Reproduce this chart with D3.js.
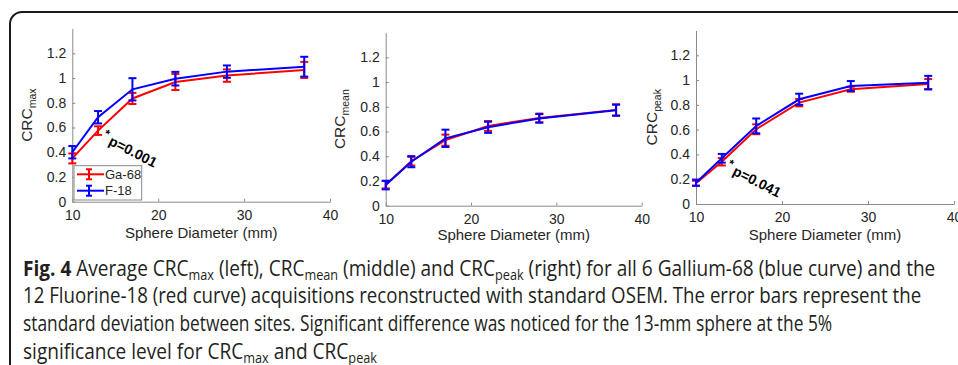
<!DOCTYPE html>
<html>
<head>
<meta charset="utf-8">
<script src="https://cdn.jsdelivr.net/npm/d3@7"></script>
<style>
  body { margin: 0; background: #fff; }
  svg { display: block; }
</style>
</head>
<body>
<div id="app"></div>
<script>
// sphere diameters (mm)
const diameters = [10, 13, 17, 22, 28, 37];

// CRCmax
const maxGa = [0.35, 0.575, 0.835, 0.968, 1.02, 1.066];
const maxGaSd = [0.04, 0.035, 0.045, 0.065, 0.05, 0.065];
const maxF = [0.40, 0.683, 0.909, 0.995, 1.052, 1.092];
const maxFSd = [0.05, 0.05, 0.09, 0.055, 0.05, 0.08];

// CRCmean
const meanGa = [0.17, 0.36, 0.53, 0.645, 0.71, 0.775];
const meanGaSd = [0.03, 0.035, 0.045, 0.04, 0.035, 0.045];
const meanF = [0.167, 0.356, 0.545, 0.634, 0.706, 0.772];
const meanFSd = [0.035, 0.045, 0.07, 0.045, 0.035, 0.045];

// CRCpeak
const peakGa = [0.168, 0.341, 0.603, 0.818, 0.926, 0.968];
const peakGaSd = [0.02, 0.03, 0.04, 0.03, 0.02, 0.04];
const peakF = [0.172, 0.369, 0.63, 0.845, 0.952, 0.979];
const peakFSd = [0.025, 0.035, 0.06, 0.045, 0.04, 0.055];

const xTicks = [10, 20, 30, 40];
const yTicks = [0, 0.2, 0.4, 0.6, 0.8, 1, 1.2];
const yTickLabels = ["0", "0.2", "0.4", "0.6", "0.8", "1", "1.2"];
const seriesNames = ["Ga-68", "F-18"];
const seriesColors = ["#ff0000", "#0000ff"];

const W = 958, H = 365;
const axisColor = "#262626";
const chartFont = "'Liberation Sans', Arial, sans-serif";

const svg = d3.select("#app").append("svg").attr("width", W).attr("height", H);

// rounded frame
svg.append("rect")
  .attr("x", 10).attr("y", 12)
  .attr("width", 1000).attr("height", 400)
  .attr("rx", 12)
  .attr("fill", "none")
  .attr("stroke", "#1a1a1a")
  .attr("stroke-width", 2);

const panels = [
  { left: 72.3, right: 330, zero: 201.7, top: 28.6, sub: "max", labX: 32, xlabY: 238,
    ga: maxGa, gaSd: maxGaSd, f: maxF, fSd: maxFSd, legend: true,
    note: { text: "p=0.001", x: 102.5, y: 141.5 } },
  { left: 385.7, right: 641.7, zero: 205.7, top: 32.6, sub: "mean", labX: 345, xlabY: 240,
    ga: meanGa, gaSd: meanGaSd, f: meanF, fSd: meanFSd, legend: false, note: null },
  { left: 696, right: 954, zero: 204, top: 30.5, sub: "peak", labX: 657, xlabY: 240,
    ga: peakGa, gaSd: peakGaSd, f: peakF, fSd: peakFSd, legend: false,
    note: { text: "p=0.041", x: 726.5, y: 171.5 } }
];

panels.forEach(p => {
  const x = d3.scaleLinear().domain([10, 40]).range([p.left, p.right]);
  const y = d3.scaleLinear().domain([0, 1.4]).range([p.zero, p.top]);
  const g = svg.append("g");

  //x axis
  const xAxis = g.append("g")
    .attr("transform", `translate(0,${p.zero})`)
    .call(d3.axisBottom(x).tickValues(xTicks).tickSizeInner(-3).tickSizeOuter(0).tickPadding(8));
  //y axis
  const yAxis = g.append("g")
    .attr("transform", `translate(${p.left},0)`)
    .call(d3.axisLeft(y).tickValues(yTicks).tickFormat((d, i) => yTickLabels[i])
      .tickSizeInner(-3).tickSizeOuter(0).tickPadding(6));

  [xAxis, yAxis].forEach(a => {
    a.select(".domain").attr("stroke", "#8a8a8a").attr("stroke-width", 1);
    a.selectAll(".tick line").attr("stroke", "#8a8a8a");
    a.selectAll(".tick text")
      .attr("fill", axisColor)
      .style("font-family", chartFont)
      .style("font-size", "14px");
  });

  // x label
  g.append("text")
    .attr("x", (p.left + p.right) / 2)
    .attr("y", p.xlabY)
    .attr("text-anchor", "middle")
    .attr("fill", axisColor)
    .style("font-family", chartFont)
    .style("font-size", "15px")
    .text("Sphere Diameter (mm)");

  // y label
  const yl = g.append("text")
    .attr("transform", `translate(${p.labX},${(p.zero + p.top) / 2}) rotate(-90)`)
    .attr("text-anchor", "middle")
    .attr("fill", axisColor)
    .style("font-family", chartFont)
    .style("font-size", "15.5px");
  yl.append("tspan").text("CRC");
  yl.append("tspan").attr("dy", 4).style("font-size", "10.5px").text(p.sub);

  const line = d3.line().x((d, i) => x(diameters[i])).y(d => y(d));

  const series = [
    { vals: p.ga, sd: p.gaSd, color: seriesColors[0] },
    { vals: p.f, sd: p.fSd, color: seriesColors[1] }
  ];

  series.forEach(s => {
    g.append("path")
      .datum(s.vals)
      .attr("d", line)
      .attr("fill", "none")
      .attr("stroke", s.color)
      .attr("stroke-width", 2);

    const eb = g.append("g").attr("stroke", s.color).attr("stroke-width", 2);
    s.vals.forEach((v, i) => {
      const cx = x(diameters[i]);
      const lo = y(v - s.sd[i]), hi = y(v + s.sd[i]);
      eb.append("line").attr("x1", cx).attr("x2", cx).attr("y1", lo).attr("y2", hi);
      eb.append("line").attr("x1", cx - 4).attr("x2", cx + 4).attr("y1", lo).attr("y2", lo);
      eb.append("line").attr("x1", cx - 4).attr("x2", cx + 4).attr("y1", hi).attr("y2", hi);
    });
  });

  // significance note
  if (p.note) {
    const ng = g.append("g").attr("transform", `translate(${p.note.x},${p.note.y}) rotate(27)`);
    ng.append("text").attr("x", -2).attr("y", -5)
      .style("font-family", chartFont).style("font-size", "12px").style("font-weight", "bold")
      .text("*");
    ng.append("text").attr("x", 6).attr("y", 0)
      .style("font-family", chartFont).style("font-size", "14px").style("font-weight", "bold")
      .attr("fill", "#000")
      .text(p.note.text);
  }

  // legend
  if (p.legend) {
    const lg = g.append("g");
    lg.append("rect")
      .attr("x", 74).attr("y", 165.7)
      .attr("width", 67.7).attr("height", 34.3)
      .attr("fill", "#fff")
      .attr("stroke", "#8a8a8a")
      .attr("stroke-width", 1);
    seriesNames.forEach((name, i) => {
      const ly = 174.3 + i * 16.4;
      const c = seriesColors[i];
      lg.append("line").attr("x1", 77).attr("x2", 104).attr("y1", ly).attr("y2", ly)
        .attr("stroke", c).attr("stroke-width", 2);
      lg.append("line").attr("x1", 89).attr("x2", 89).attr("y1", ly - 5).attr("y2", ly + 5)
        .attr("stroke", c).attr("stroke-width", 2);
      lg.append("line").attr("x1", 86).attr("x2", 92).attr("y1", ly - 5).attr("y2", ly - 5)
        .attr("stroke", c).attr("stroke-width", 2);
      lg.append("line").attr("x1", 86).attr("x2", 92).attr("y1", ly + 5).attr("y2", ly + 5)
        .attr("stroke", c).attr("stroke-width", 2);
      lg.append("text").attr("x", 105).attr("y", ly + 4.5)
        .attr("fill", axisColor)
        .style("font-family", chartFont).style("font-size", "13px")
        .text(name);
    });
  }
});

// caption
const captionLines = [
  { y: 275.7, right: 936, parts: [
    { t: "Fig. 4", b: true }, { t: " Average CRC" }, { t: "max", s: true }, { t: " (left), CRC" },
    { t: "mean", s: true }, { t: " (middle) and CRC" }, { t: "peak", s: true },
    { t: " (right) for all 6 Gallium-68 (blue curve) and the" } ] },
  { y: 303.4, right: 922, parts: [
    { t: "12 Fluorine-18 (red curve) acquisitions reconstructed with standard OSEM. The error bars represent the" } ] },
  { y: 331.1, right: 833, parts: [
    { t: "standard deviation between sites. Significant difference was noticed for the 13-mm sphere at the 5%" } ] },
  { y: 358.8, right: 378, parts: [
    { t: "significance level for CRC" }, { t: "max", s: true }, { t: " and CRC" }, { t: "peak", s: true } ] }
];

captionLines.forEach(l => {
  const cg = svg.append("g");
  const txt = cg.append("text")
    .attr("x", 0).attr("y", 0)
    .attr("fill", "#231f20")
    .style("font-family", "'Open Sans', 'Noto Sans', sans-serif")
    .style("font-size", "21px");
  l.parts.forEach((pt, i) => {
    const prevSub = i > 0 && l.parts[i - 1].s;
    const ts = txt.append("tspan").text(pt.t);
    if (pt.b) ts.style("font-weight", "bold");
    if (pt.s) ts.attr("dy", 4).style("font-size", "14px");
    else if (prevSub) ts.attr("dy", -4);
  });
  const wNat = txt.node().getBBox().width;
  const x0 = 23;
  const k = (l.right - x0) / wNat;
  cg.attr("transform", `translate(${x0},${l.y}) scale(${k},1)`);
});
</script>
</body>
</html>
